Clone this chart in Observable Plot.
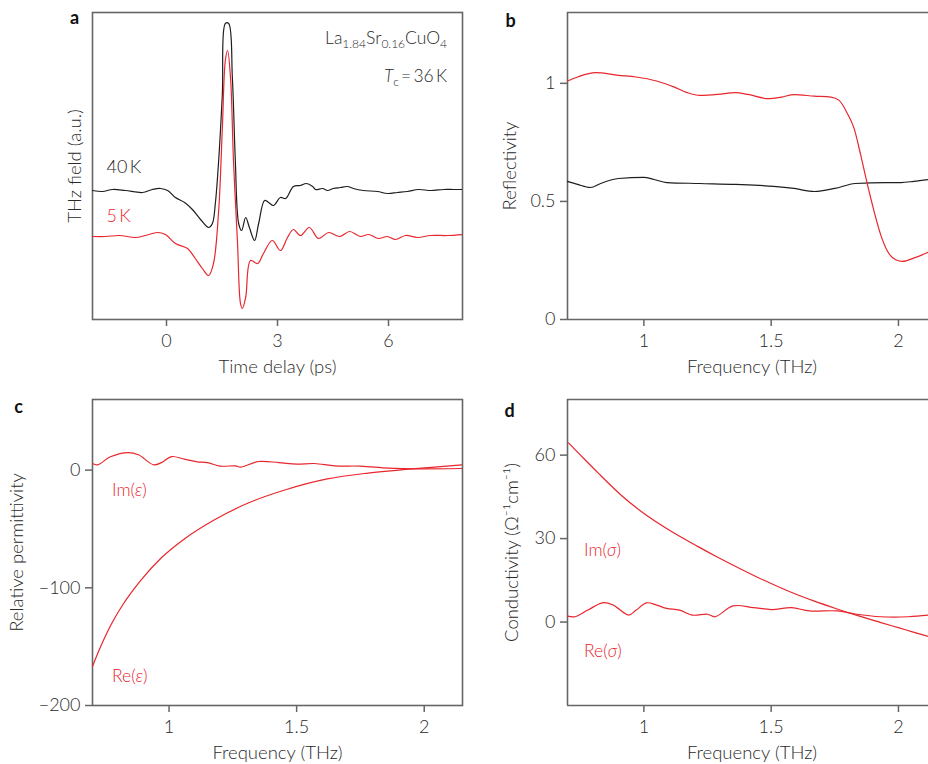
<!DOCTYPE html>
<html><head><meta charset="utf-8">
<script src="https://cdn.jsdelivr.net/npm/d3@7"></script>
<script src="https://cdn.jsdelivr.net/npm/@observablehq/plot@0.6"></script>
<style>
html,body{margin:0;padding:0;background:#fff;overflow:hidden;width:928px;height:764px;}
#root{position:relative;width:928px;height:764px;font-family:Lato,sans-serif;font-weight:300;color:#2a2a2a;}
#root svg{position:absolute;}
.note{position:absolute;font-size:17.5px;line-height:17px;white-space:nowrap;}
.note sub{font-size:12px;vertical-align:-4px;line-height:0;}
.red{color:#e8262d;}
</style></head><body><div id="root"></div>
<script>
// ---------- Panel a: THz field vs time delay ----------
const time40K = [-2.00,-1.73,-1.46,-1.11,-0.65,-0.38,-0.16,0.03,0.24,0.49,0.70,0.92,1.14,1.24,1.32,1.41,1.51,1.59,1.68,1.78,1.86,1.95,2.03,2.14,2.24,2.38,2.49,2.65,2.76,2.89,3.08,3.22,3.43,3.62,3.78,3.95,4.03,4.22,4.35,4.51,4.70,4.89,5.05,5.32,5.70,5.97,6.24,6.51,6.81,7.14,7.49,7.76,8.00];
const field40K = [1.29,1.28,1.30,1.29,1.27,1.30,1.31,1.29,1.22,1.17,1.10,1.00,0.92,0.96,1.16,1.59,2.26,2.96,2.96,2.42,1.59,0.96,0.89,1.02,0.92,0.79,0.96,1.19,1.17,1.14,1.22,1.21,1.33,1.34,1.36,1.33,1.30,1.31,1.29,1.31,1.32,1.33,1.31,1.29,1.28,1.26,1.27,1.28,1.30,1.29,1.30,1.30,1.30];
const time5K = [-2.00,-1.65,-1.27,-0.84,-0.57,-0.24,-0.03,0.24,0.57,0.76,0.97,1.14,1.27,1.41,1.51,1.59,1.65,1.73,1.81,1.92,2.00,2.05,2.14,2.27,2.46,2.62,2.86,3.08,3.27,3.43,3.62,3.86,4.11,4.38,4.68,4.95,5.24,5.46,5.73,5.97,6.19,6.46,6.78,7.14,7.59,8.00];
const field5K = [0.83,0.83,0.84,0.82,0.84,0.87,0.85,0.76,0.71,0.62,0.51,0.44,0.56,1.09,1.92,2.59,2.69,2.42,1.59,0.76,0.16,0.11,0.22,0.59,0.56,0.66,0.79,0.69,0.82,0.90,0.84,0.92,0.81,0.87,0.83,0.88,0.83,0.85,0.81,0.83,0.80,0.84,0.82,0.84,0.84,0.85];
const ticksTime = [0, 3, 6];

// ---------- Panel b: reflectivity ----------
const freqR5K = [0.70,0.74,0.81,0.90,0.97,1.05,1.12,1.17,1.22,1.29,1.36,1.41,1.49,1.54,1.59,1.67,1.735,1.767,1.800,1.826,1.852,1.878,1.905,1.931,1.957,1.989,2.016,2.062,2.118];
const refl5K = [1.010,1.027,1.045,1.034,1.027,1.010,0.984,0.961,0.949,0.953,0.961,0.953,0.935,0.942,0.952,0.946,0.942,0.928,0.871,0.808,0.695,0.572,0.455,0.356,0.289,0.253,0.246,0.261,0.285];
const freqR40K = [0.70,0.74,0.79,0.83,0.90,1.00,1.04,1.09,1.22,1.36,1.51,1.59,1.67,1.75,1.83,1.95,2.01,2.06,2.12];
const refl40K = [0.585,0.572,0.559,0.576,0.597,0.602,0.593,0.580,0.576,0.572,0.564,0.555,0.542,0.555,0.576,0.580,0.580,0.585,0.593];
const ticksRefl = [0, 0.5, 1];
const ticksFreq = [1, 1.5, 2];

// ---------- Panel c: relative permittivity ----------
const freqReEps = [0.70,0.73,0.77,0.82,0.89,0.97,1.06,1.18,1.31,1.46,1.62,1.78,1.94,2.04,2.15];
const reEps = [-166.7,-151,-132.5,-114,-93.5,-74.5,-58.5,-42,-28,-16.5,-7.5,-2.5,0.8,2.6,4.5];
const freqImEps = [0.70,0.72,0.77,0.84,0.88,0.94,0.97,1.01,1.06,1.11,1.15,1.20,1.26,1.28,1.35,1.43,1.50,1.57,1.65,1.75,1.86,1.98,2.15];
const imEps = [5.6,4.5,11.3,14.9,13,4.5,6.4,11.5,9.3,7,6.4,3.4,3.6,2.5,7.3,6.4,5.1,5.6,3.6,3.4,1.7,1.1,1.4];
const ticksEps = [-200, -100, 0];

// ---------- Panel d: conductivity ----------
const freqImSig = [0.704,0.753,0.82,0.911,1.002,1.107,1.211,1.29,1.38,1.472,1.576,1.667,1.759,1.837,1.928,2.006,2.058,2.118];
const imSig = [64.4,59.8,53.6,45.6,38.9,32.6,27.2,23.3,19.1,15.0,10.8,7.6,4.7,2.4,-0.1,-2.2,-3.6,-5.2];
const freqReSig = [0.70,0.73,0.78,0.84,0.88,0.94,0.97,1.01,1.05,1.09,1.14,1.19,1.25,1.28,1.35,1.43,1.50,1.58,1.65,1.76,1.83,1.93,2.04,2.12];
const reSig = [2.1,1.9,4.3,7,6.1,2.5,4.3,6.9,6.1,4.9,4.3,2.5,2.8,1.9,5.8,5.2,4.5,5.2,4,4,2.9,1.9,1.9,2.5];
const ticksSig = [0, 30, 60];

// ---------- helpers ----------
const RED = "#e8262d", BLACK = "#1e1e1e", AXIS = "#666", TEXT = "#2a2a2a";
const fmt = d => (d < 0 ? "\u2212" + (-d) : String(d));
const pts = (xs, ys) => xs.map((x, i) => ({x, y: ys[i]}));
const style = {fontFamily: 'Lato, sans-serif', fontWeight: 300, fontSize: "18px", color: AXIS, background: "transparent", overflow: "visible"};
const root = document.getElementById("root");
function place(svg, left, top) { svg.style.left = left + "px"; svg.style.top = top + "px"; root.appendChild(svg); }
const line = (data, stroke, curve = "monotone-x") => Plot.line(data, {x: "x", y: "y", stroke, strokeWidth: 1.2, curve, clip: true});
const xAx = ticks => Plot.axisX(ticks, {tickSize: 7, tickPadding: 8, tickFormat: fmt, label: null, strokeWidth: 1.5, fontSize: 18, fill: TEXT});
const yAx = ticks => Plot.axisY(ticks, {tickSize: 7, tickPadding: 5, tickFormat: fmt, label: null, strokeWidth: 1.5, fontSize: 18, fill: TEXT});
const xLabel = (txt, dx = 0) => Plot.text([txt], {frameAnchor: "bottom", dy: 48, dx, textAnchor: "middle", lineAnchor: "middle", fontSize: 18.5, fill: TEXT});
const yLabel = (txt, dx) => Plot.text([txt], {frameAnchor: "left", rotate: -90, dx, textAnchor: "middle", lineAnchor: "middle", fontSize: 18.5, fill: TEXT});
const letter = (txt, dx, dy) => Plot.text([txt], {frameAnchor: "top-left", dx, dy, textAnchor: "middle", lineAnchor: "middle", fontWeight: "bold", fontSize: 18, fill: "#111"});
const FW = 1.6;

// Panel a
place(Plot.plot({
  width: 464, height: 380, marginLeft: 92, marginRight: 2, marginTop: 12, marginBottom: 61, style,
  x: {domain: [-2, 8], axis: null}, y: {domain: [0, 3.07], axis: null},
  marks: [
    Plot.frame({strokeWidth: FW}),
    xAx(ticksTime),
    line(pts(time40K, field40K), BLACK, "catmull-rom"),
    line(pts(time5K, field5K), RED, "catmull-rom"),
    Plot.text(["40\u2009K"], {x: -1.62, y: 1.525, textAnchor: "start", fill: BLACK, fontSize: 18}),
    Plot.text(["5\u2009K"], {x: -1.62, y: 1.03, textAnchor: "start", fill: RED, fontSize: 18}),
    xLabel("Time delay (ps)"),
    yLabel("THz field (a.u.)", -17),
    letter("a", -18, 6)
  ]
}), 0, 0);

// Panel b
place(Plot.plot({
  width: 464, height: 380, marginLeft: 103, marginRight: 0, marginTop: 12, marginBottom: 61, style,
  x: {domain: [0.7, 2.118], axis: null}, y: {domain: [0, 1.3], axis: null},
  marks: [
    Plot.ruleX([0.7], {strokeWidth: FW}),
    Plot.ruleY([0, 1.3], {strokeWidth: FW}),
    xAx(ticksFreq), yAx(ticksRefl),
    line(pts(freqR40K, refl40K), BLACK),
    line(pts(freqR5K, refl5K), RED),
    xLabel("Frequency (THz)", 4),
    yLabel("Reflectivity", -57),
    letter("b", -57, 9)
  ]
}), 464, 0);

// Panel c
place(Plot.plot({
  width: 464, height: 374, marginLeft: 92, marginRight: 2, marginTop: 9, marginBottom: 59, style,
  x: {domain: [0.7, 2.15], axis: null}, y: {domain: [-200, 60], axis: null},
  marks: [
    Plot.frame({strokeWidth: FW}),
    xAx(ticksFreq), yAx(ticksEps),
    line(pts(freqReEps, reEps), RED),
    line(pts(freqImEps, imEps), RED, "catmull-rom"),
    xLabel("Frequency (THz)"),
    yLabel("Relative permittivity", -75),
    letter("c", -74, 8)
  ]
}), 0, 390);

// Panel d
place(Plot.plot({
  width: 464, height: 374, marginLeft: 103, marginRight: 0, marginTop: 9, marginBottom: 59, style,
  x: {domain: [0.7, 2.118], axis: null}, y: {domain: [-30, 80], axis: null},
  marks: [
    Plot.ruleX([0.7], {strokeWidth: FW}),
    Plot.ruleY([-30, 80], {strokeWidth: FW}),
    xAx(ticksFreq), yAx(ticksSig),
    line(pts(freqImSig, imSig), RED),
    line(pts(freqReSig, reSig), RED, "catmull-rom"),
    xLabel("Frequency (THz)", 4),
    yLabel("Conductivity (\u03A9\u207B\u00B9cm\u207B\u00B9)", -55),
    letter("d", -58, 12)
  ]
}), 464, 390);

// Annotations with sub/italic text
const notes = [
  {html: 'La<sub>1.84</sub>Sr<sub>0.16</sub>CuO<sub>4</sub>', right: 481, top: 29, cls: ""},
  {html: '<i>T</i><sub>c</sub>\u2009=\u200936\u2009K', right: 481, top: 67, cls: ""},
  {html: 'Im(<i>\u03B5</i>)', left: 112, top: 481, cls: "red"},
  {html: 'Re(<i>\u03B5</i>)', left: 112, top: 667, cls: "red"},
  {html: 'Im(<i>\u03C3</i>)', left: 584, top: 541, cls: "red"},
  {html: 'Re(<i>\u03C3</i>)', left: 584, top: 642, cls: "red"}
];
for (const n of notes) {
  const d = document.createElement("div");
  d.className = "note " + n.cls;
  d.innerHTML = n.html;
  if (n.right != null) d.style.right = n.right + "px"; else d.style.left = n.left + "px";
  d.style.top = n.top + "px";
  root.appendChild(d);
}
</script></body></html>
